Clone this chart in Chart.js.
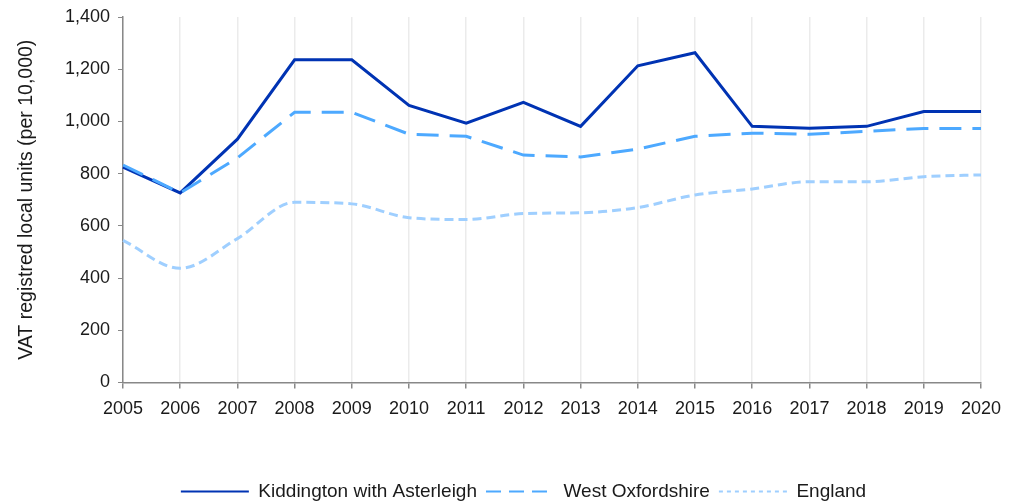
<!DOCTYPE html>
<html>
<head>
<meta charset="utf-8">
<script src="https://cdn.jsdelivr.net/npm/chart.js@4"></script>
<style>
    html, body { margin: 0; padding: 0; background: #fff; }
    #wrap { width: 1023px; height: 503px; }
</style>
</head>
<body>
<div id="wrap"><canvas id="vatChart"></canvas></div>
<script>
const years = ['2005', '2006', '2007', '2008', '2009', '2010', '2011', '2012',
               '2013', '2014', '2015', '2016', '2017', '2018', '2019', '2020'];
const kiddington = [825, 726, 932, 1236, 1236, 1061, 993, 1073, 981, 1213, 1263, 981, 974, 981, 1038, 1038];
const westOxfordshire = [833, 726, 860, 1035, 1035, 951, 943, 871, 864, 894, 943, 955, 951, 962, 973, 973];
const england = [544, 437, 551, 690, 684, 631, 624, 647, 650, 670, 718, 741, 769, 769, 788, 795];

// legend samples are thinner and use shorter dashes than the plotted lines
const legendDash = [[], [15, 8], [4, 4]];

Chart.defaults.font.family = '"Liberation Sans", Arial, sans-serif';
Chart.defaults.font.size = 18;
Chart.defaults.color = '#1a1a1a';

// push the legend down a little and centre it on the page, not the plot box
const legendNudge = {
    id: 'legendNudge',
    beforeInit(chart) {
        const fit = chart.legend.fit;
        chart.legend.fit = function () {
            fit.bind(chart.legend)();
            this.height -= 8;
        };
    },
    afterLayout(chart) {
        chart.legend.left += 33;
        chart.legend.right += 33;
    }
};

const ctx = document.getElementById('vatChart');
new Chart(ctx, {
    type: 'line',
    data: {
        labels: years,
        datasets: [
            {
                label: 'Kiddington with Asterleigh',
                data: kiddington,
                borderColor: '#0033b3',
                borderWidth: 3,
                pointRadius: 0,
                pointStyle: 'line',
                tension: 0,
                order: 2
            },
            {
                label: 'West Oxfordshire',
                data: westOxfordshire,
                borderColor: '#4da9ff',
                borderWidth: 3,
                borderDash: [22, 11],
                pointRadius: 0,
                pointStyle: 'line',
                tension: 0,
                order: 1
            },
            {
                label: 'England',
                data: england,
                borderColor: '#9fcfff',
                borderWidth: 3,
                borderDash: [9, 5],
                pointRadius: 0,
                pointStyle: 'line',
                cubicInterpolationMode: 'monotone',
                order: 3
            }
        ]
    },
    options: {
        responsive: true,
        maintainAspectRatio: false,
        animation: false,
        layout: {
            padding: { top: 12, right: 42, bottom: 0, left: 0 }
        },
        plugins: {
            legend: {
                position: 'bottom',
                labels: {
                    usePointStyle: true,
                    pointStyleWidth: 68,
                    padding: 9,
                    color: '#1a1a1a',
                    font: { size: 19 },
                    sort: (a, b) => a.datasetIndex - b.datasetIndex,
                    generateLabels: chart => {
                        const items = Chart.defaults.plugins.legend.labels.generateLabels(chart);
                        items.forEach(item => {
                            const ds = chart.data.datasets[item.datasetIndex];
                            item.strokeStyle = ds.borderColor;
                            item.fillStyle = ds.borderColor;
                            item.lineWidth = 2;
                            item.lineDash = legendDash[item.datasetIndex];
                            item.pointStyle = 'line';
                        });
                        return items;
                    }
                }
            },
            tooltip: { enabled: false }
        },
        scales: {
            x: {
                grid: {
                    color: '#ebebeb',
                    tickColor: '#888',
                    tickLength: 6,
                    lineWidth: 1.5
                },
                border: { color: '#888', width: 1.5 },
                ticks: { padding: 10, maxRotation: 0, autoSkip: false },
                afterFit: scale => { scale.height += 43; }
            },
            y: {
                min: 0,
                max: 1400,
                ticks: { stepSize: 200, padding: 8, font: { lineHeight: 1 } },
                grid: {
                    drawOnChartArea: false,
                    color: '#888',
                    tickLength: 5
                },
                border: { color: '#888', width: 1.5 },
                title: {
                    display: true,
                    text: 'VAT registred local units (per 10,000)',
                    font: { size: 19.5 },
                    padding: { top: 15, bottom: 0 }
                },
                afterFit: scale => { scale.width = 123; }
            }
        }
    },
    plugins: [legendNudge]
});
</script>
</body>
</html>
